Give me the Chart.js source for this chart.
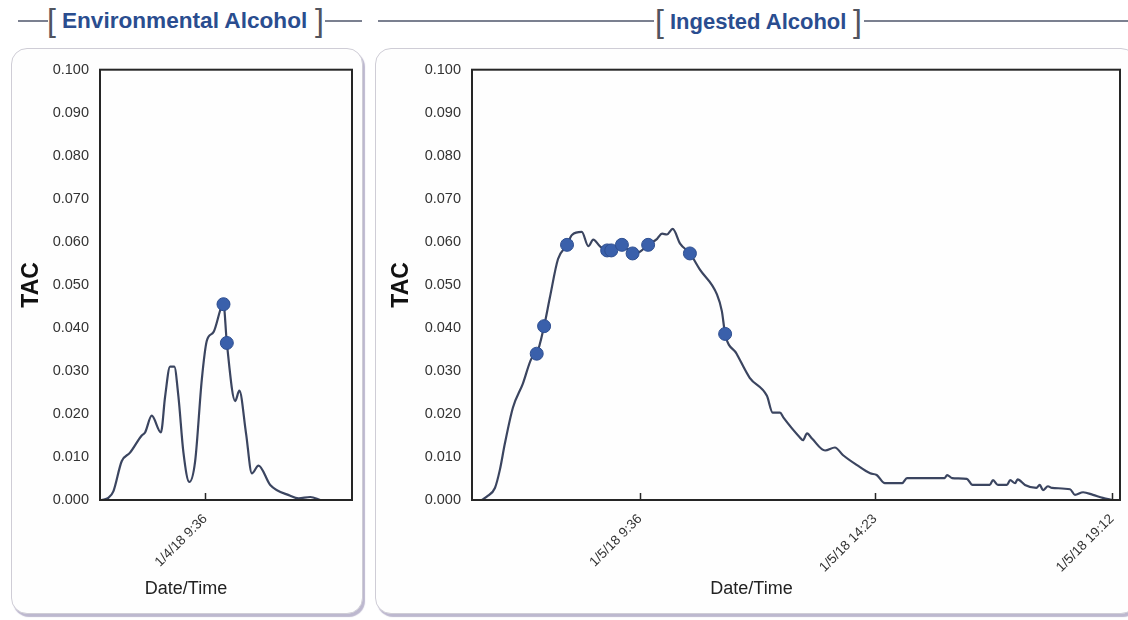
<!DOCTYPE html>
<html>
<head>
<meta charset="utf-8">
<script src="https://cdn.jsdelivr.net/npm/chart.js@4.4.1/dist/chart.umd.min.js"></script>
<style>
  body { margin: 0; background: #fff; width: 1128px; height: 620px; overflow: hidden; position: relative; font-family: "Liberation Sans", Arial, sans-serif; }
  .panel { position: absolute; top: 48px; height: 564px; background: #fefefe; border: 1.5px solid #cfcdd6; border-radius: 16px; box-shadow: 2px 3px 1px #bdb8cf; }
  .hline { position: absolute; height: 1.5px; background: #7b8090; }
  .br { position: absolute; font-size: 32px; color: #50545f; line-height: 32px; }
  .head { position: absolute; font-size: 22.6px; font-weight: bold; color: #2a4d8f; line-height: 24px; white-space: nowrap; }
  .xtitle { position: absolute; top: 577px; font-size: 18px; color: #222; text-align: center; line-height: 22px; }
  canvas { position: absolute; }
</style>
</head>
<body>
<div class="hline" style="left:18px; top:20px; width:30px;"></div>
<div class="br" style="left:47px; top:4px;">[</div>
<div class="head" style="left:62px; top:9px;">Environmental Alcohol</div>
<div class="br" style="left:315px; top:4px;">]</div>
<div class="hline" style="left:325px; top:20px; width:37px;"></div>

<div class="hline" style="left:378px; top:20px; width:276px;"></div>
<div class="br" style="left:655px; top:5px;">[</div>
<div class="head" style="left:670px; top:10px; font-size:22px;">Ingested Alcohol</div>
<div class="br" style="left:853px; top:5px;">]</div>
<div class="hline" style="left:864px; top:20px; width:264px;"></div>

<div class="panel" style="left:11px; width:350px;"></div>
<div class="panel" style="left:375px; width:760px;"></div>

<canvas id="env" width="352" height="562" style="left:10px; top:50px;"></canvas>
<canvas id="ing" width="753" height="562" style="left:375px; top:50px;"></canvas>

<div class="xtitle" style="left:11px; width:350px;">Date/Time</div>
<div class="xtitle" style="left:375px; width:753px;">Date/Time</div>

<script>
// x values are minutes after midnight, y values are TAC
const envTime = [452, 460, 466, 476, 486, 500, 504, 512, 523, 528, 534, 539, 544, 550, 557, 564, 572, 578, 586, 598, 602, 612, 617, 625, 632, 640, 654, 678, 688, 702, 714];
const envTac = [0, 0.0005, 0.002, 0.009, 0.011, 0.015, 0.0157, 0.0196, 0.0157, 0.024, 0.031, 0.031, 0.024, 0.011, 0.0042, 0.009, 0.028, 0.037, 0.039, 0.0455, 0.0365, 0.023, 0.0254, 0.0155, 0.0062, 0.008, 0.0035, 0.001, 0.0004, 0.0007, 0];
const envMarkTime = [598, 602];
const envMarkTac = [0.0455, 0.0365];

const ingTime = [383, 389, 399, 405, 411, 421, 433, 444, 450, 459, 466, 476, 487, 493, 505, 513, 519, 527, 536, 541,
  554, 567, 576, 586, 597, 603, 609, 616, 625, 637, 649, 670, 676, 680, 694, 710, 731, 738, 747, 751,
  771, 775, 780, 786, 802, 814, 824, 841, 857, 865, 875, 896, 902, 948, 951, 957, 975, 982, 1003, 1007,
  1013, 1024, 1028, 1034, 1037, 1046, 1060, 1064, 1068, 1074, 1079, 1101, 1107, 1117, 1129, 1141, 1153];
const ingTac = [0, 0.0008, 0.0028, 0.007, 0.013, 0.0215, 0.027, 0.033, 0.034, 0.0404, 0.047, 0.056, 0.0593, 0.0616, 0.0623, 0.059, 0.0605, 0.059, 0.058, 0.058,
  0.0593, 0.0573, 0.0577, 0.0593, 0.0607, 0.0619, 0.0617, 0.063, 0.0596, 0.0573, 0.0536, 0.0478, 0.0439, 0.0386, 0.034, 0.0284, 0.0242, 0.0203, 0.0203, 0.0192,
  0.0146, 0.0139, 0.0155, 0.0143, 0.0115, 0.0122, 0.0104, 0.0081, 0.0062, 0.0058, 0.0039, 0.0039, 0.0051, 0.0051, 0.0058, 0.0051, 0.0049, 0.0035, 0.0035, 0.0046,
  0.0035, 0.0035, 0.0046, 0.0039, 0.0048, 0.0035, 0.0028, 0.0035, 0.0023, 0.0032, 0.0028, 0.0025, 0.0012, 0.0018, 0.0012, 0.0005, 0];
const ingMarkTime = [450, 459, 487, 536, 541, 554, 567, 586, 637, 680];
const ingMarkTac = [0.034, 0.0404, 0.0593, 0.058, 0.058, 0.0593, 0.0573, 0.0593, 0.0573, 0.0386];

const envTicks = [576];
const envTickLabels = ['1/4/18 9:36'];
const ingTicks = [576, 863, 1152];
const ingTickLabels = ['1/5/18 9:36', '1/5/18 14:23', '1/5/18 19:12'];

const pts = (xs, ys) => xs.map((x, i) => ({ x: x, y: ys[i] }));

// box round the plot and small tick marks pointing inwards
const plotBox = {
  id: 'plotBox',
  afterDraw(chart) {
    const { ctx, chartArea: a } = chart;
    const xs = chart.scales.x;
    ctx.save();
    ctx.strokeStyle = '#262626';
    ctx.lineWidth = 2;
    ctx.strokeRect(a.left, a.top, a.right - a.left, a.bottom - a.top);
    ctx.lineWidth = 1.5;
    ctx.beginPath();
    xs.ticks.forEach(t => {
      const px = Math.round(xs.getPixelForValue(t.value)) + 0.5;
      ctx.moveTo(px, a.bottom);
      ctx.lineTo(px, a.bottom - 7);
    });
    ctx.stroke();
    ctx.restore();
  }
};

function makeChart(id, time, tac, markTime, markTac, xMin, xMax, ticks, tickLabels, yWidth, titlePad, padRight) {
  return new Chart(document.getElementById(id), {
    type: 'scatter',
    data: {
      datasets: [{
        data: pts(markTime, markTac),
        showLine: false,
        pointRadius: 6.5,
        pointBackgroundColor: '#3a60ab',
        pointBorderColor: '#2f4f90',
        pointBorderWidth: 1
      }, {
        data: pts(time, tac),
        showLine: true,
        borderColor: '#3b4560',
        borderWidth: 2.2,
        pointRadius: 0,
        tension: 0.2,
        cubicInterpolationMode: 'monotone'
      }]
    },
    options: {
      responsive: false,
      animation: false,
      layout: { padding: { top: 17, right: padRight, left: 0, bottom: 0 } },
      plugins: { legend: { display: false }, tooltip: { enabled: false } },
      scales: {
        x: {
          type: 'linear',
          min: xMin,
          max: xMax,
          grid: { display: false, drawTicks: false },
          border: { display: false },
          afterBuildTicks: s => { s.ticks = ticks.map(v => ({ value: v })); },
          afterFit: s => { s.height = 112; s.paddingLeft = 0; s.paddingRight = 0; },
          ticks: {
            autoSkip: false,
            minRotation: 45,
            maxRotation: 45,
            padding: 11,
            color: '#333',
            font: { family: 'Liberation Sans', size: 13.5 },
            callback: v => tickLabels[ticks.indexOf(v)]
          },
          title: { display: false }
        },
        y: {
          min: 0,
          max: 0.1,
          grid: { display: false, drawTicks: false },
          border: { display: false },
          afterFit: s => { s.width = yWidth; },
          ticks: {
            stepSize: 0.01,
            padding: 11,
            color: '#333',
            font: { family: 'Liberation Sans', size: 14.5 },
            callback: v => v.toFixed(3)
          },
          title: {
            display: true,
            text: 'TAC',
            color: '#111',
            font: { family: 'Liberation Sans', size: 23, weight: 'bold' },
            padding: { top: titlePad, bottom: 0 }
          }
        }
      }
    },
    plugins: [plotBox]
  });
}

makeChart('env', envTime, envTac, envMarkTime, envMarkTac, 450, 752, envTicks, envTickLabels, 90, 8, 10);
makeChart('ing', ingTime, ingTac, ingMarkTime, ingMarkTac, 371, 1162, ingTicks, ingTickLabels, 97, 13, 8);
</script>
</body>
</html>
